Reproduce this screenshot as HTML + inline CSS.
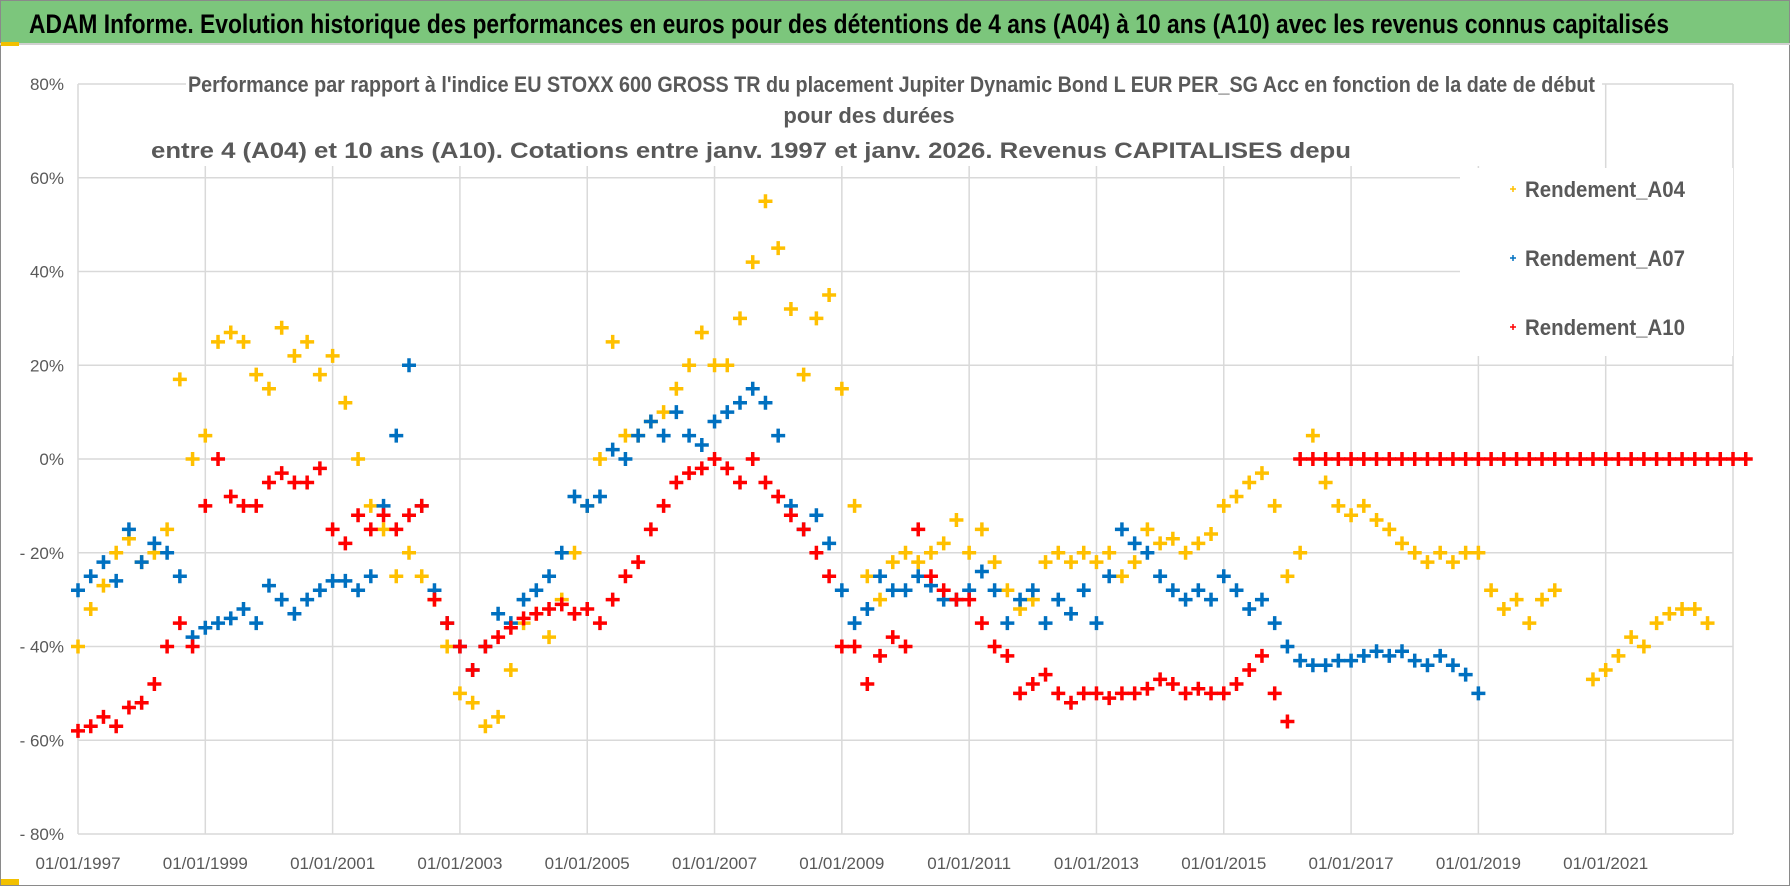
<!DOCTYPE html>
<html><head><meta charset="utf-8"><style>
html,body{margin:0;padding:0;background:#fff;}
svg{display:block;font-family:"Liberation Sans",sans-serif;}
</style></head><body>
<svg id="chart" width="1790" height="886" viewBox="0 0 1790 886">
<rect x="0.5" y="0.5" width="1789" height="885" fill="#fff" stroke="#8a8a8a"/>
<rect x="1" y="1" width="1788" height="42" fill="#7cc67c"/>
<line x1="0" y1="44" x2="1790" y2="44" stroke="#d0d0d0" stroke-width="2"/>
<rect x="1" y="42" width="18" height="4" fill="#f2c000"/>
<rect x="1" y="879" width="18" height="6" fill="#f2c000"/>
<text x="29" y="33" font-size="27" font-weight="bold" fill="#000" textLength="1640" lengthAdjust="spacingAndGlyphs">ADAM Informe. Evolution historique des performances en euros pour des détentions de 4 ans (A04) à 10 ans (A10) avec les revenus connus capitalisés</text>
<g id="grid"></g>
<g id="axes"></g>
<g id="marks"></g>
<rect x="186" y="66" width="1416" height="100" fill="#fff"/>
<g fill="#595959" font-weight="bold" font-size="22">
<text x="188" y="92" textLength="1407" lengthAdjust="spacingAndGlyphs">Performance par rapport à l'indice EU STOXX 600 GROSS TR du placement Jupiter Dynamic Bond L EUR PER_SG Acc en fonction de la date de début</text>
<text x="869" y="123" text-anchor="middle">pour des durées</text>
<text x="151" y="158" textLength="1200" lengthAdjust="spacingAndGlyphs">entre 4 (A04) et 10 ans (A10). Cotations entre janv. 1997 et janv. 2026. Revenus CAPITALISES depu</text>
</g>
<rect x="1460" y="168" width="273" height="188" fill="#fff"/>
<g id="legend" font-size="22" font-weight="bold" fill="#595959"></g>
</svg>
<script>
const startYear = 1997.0;
const step = 0.2;
const a04Values = [-40,-32,-27,-20,-17,-22,-20,-15,17,0,5,25,27,25,18,15,28,22,25,18,22,12,0,-10,-15,-25,-20,-25,-30,-40,-50,-52,-57,-55,-45,-35,-33,-38,-30,-20,-10,0,25,5,5,8,10,15,20,27,20,20,30,42,55,45,32,18,30,35,15,-10,-25,-30,-22,-20,-22,-20,-18,-13,-20,-15,-22,-28,-32,-30,-22,-20,-22,-20,-22,-20,-25,-22,-15,-18,-17,-20,-18,-16,-10,-8,-5,-3,-10,-25,-20,5,-5,-10,-12,-10,-13,-15,-18,-20,-22,-20,-22,-20,-20,-28,-32,-30,-35,-30,-28,null,null,-47,-45,-42,-38,-40,-35,-33,-32,-32,-35];
const a07Values = [-28,-25,-22,-26,-15,-22,-18,-20,-25,-38,-36,-35,-34,-32,-35,-27,-30,-33,-30,-28,-26,-26,-28,-25,-10,5,20,-10,-28,-35,-40,-45,-40,-33,-35,-30,-28,-25,-20,-8,-10,-8,2,0,5,8,5,10,5,3,8,10,12,15,12,5,-10,-15,-12,-18,-28,-35,-32,-25,-28,-28,-25,-27,-30,-30,-28,-24,-28,-35,-30,-28,-35,-30,-33,-28,-35,-25,-15,-18,-20,-25,-28,-30,-28,-30,-25,-28,-32,-30,-35,-40,-43,-44,-44,-43,-43,-42,-41,-42,-41,-43,-44,-42,-44,-46,-50];
const a10Values = [-58,-57,-55,-57,-53,-52,-48,-40,-35,-40,-10,0,-8,-10,-10,-5,-3,-5,-5,-2,-15,-18,-12,-15,-12,-15,-12,-10,-30,-35,-40,-45,-40,-38,-36,-34,-33,-32,-31,-33,-32,-35,-30,-25,-22,-15,-10,-5,-3,-2,0,-2,-5,0,-5,-8,-12,-15,-20,-25,-40,-40,-48,-42,-38,-40,-15,-25,-28,-30,-30,-35,-40,-42,-50,-48,-46,-50,-52,-50,-50,-51,-50,-50,-49,-47,-48,-50,-49,-50,-50,-48,-45,-42,-50,-56,0,0,0,0,0,0,0,0,0,0,0,0,0,0,0,0,0,0,0,0,0,0,0,0,0,0,0,0,0,0,0,0,0,0,0,0];
const yTicks = [80,60,40,20,0,-20,-40,-60,-80];
const yTickLabels = ["80%","60%","40%","20%","0%","- 20%","- 40%","- 60%","- 80%"];
const xTickYears = [1997,1999,2001,2003,2005,2007,2009,2011,2013,2015,2017,2019,2021];
const xTickLabels = ["01/01/1997","01/01/1999","01/01/2001","01/01/2003","01/01/2005","01/01/2007","01/01/2009","01/01/2011","01/01/2013","01/01/2015","01/01/2017","01/01/2019","01/01/2021"];
const seriesNames = ["Rendement_A04","Rendement_A07","Rendement_A10"];
const seriesColors = ["#ffc000","#0070c0","#ff0000"];

const NS="http://www.w3.org/2000/svg";
const L=78, R=1733, T=84, B=834;
const xMin=1997, xMax=2023;
const X = t => L + (t-xMin)/(xMax-xMin)*(R-L);
const Y = v => T + (80-v)/160*(B-T);
function mk(tag, attrs, parent){const e=document.createElementNS(NS,tag);for(const k in attrs)e.setAttribute(k,attrs[k]);parent.appendChild(e);return e;}
const grid=document.getElementById('grid'), axes=document.getElementById('axes'), marks=document.getElementById('marks'), legend=document.getElementById('legend');
yTicks.forEach((v,i)=>{
  const l=mk('line',{x1:L,x2:R,y1:Y(v),y2:Y(v),stroke:'#d9d9d9','stroke-width':1.5},grid);
  
  
  const t=mk('text',{x:64,y:Y(v)+6,'text-anchor':'end','font-size':17,fill:'#595959'},axes);
  t.textContent=yTickLabels[i];
  
  
});
xTickYears.forEach((yr,i)=>{
  const l=mk('line',{x1:X(yr),x2:X(yr),y1:T,y2:B,stroke:'#d9d9d9','stroke-width':1.5},grid);
  
  
  const t=mk('text',{x:X(yr),y:869,'text-anchor':'middle','font-size':17,fill:'#595959'},axes);
  t.textContent=xTickLabels[i];
  
  
});
mk('line',{x1:R,x2:R,y1:T,y2:B,stroke:'#d9d9d9','stroke-width':1.5},grid);
function plus(x,y,color,s,parent){
  return mk('path',{d:`M${x-s},${y}H${x+s}M${x},${y-s}V${y+s}`,stroke:color,'stroke-width':3.5,fill:'none'},parent);
}
[a04Values,a07Values,a10Values].forEach((vals,si)=>{
  const g=mk('g',{},marks);
  
  
  vals.forEach((v,i)=>{
    if(v===null) return;
    const p=plus(X(startYear+i*step),Y(v),seriesColors[si],7,g);
    
    
  });
});
seriesNames.forEach((n,i)=>{
  const y=189+i*69;
  const g=mk('g',{},legend);
  
  
  plus(1513,y,seriesColors[i],3,g).setAttribute('stroke-width',1.5);
  const t=mk('text',{x:1525,y:y+8,textLength:160,lengthAdjust:'spacingAndGlyphs'},g);
  t.textContent=n;
});
</script>
</body></html>
